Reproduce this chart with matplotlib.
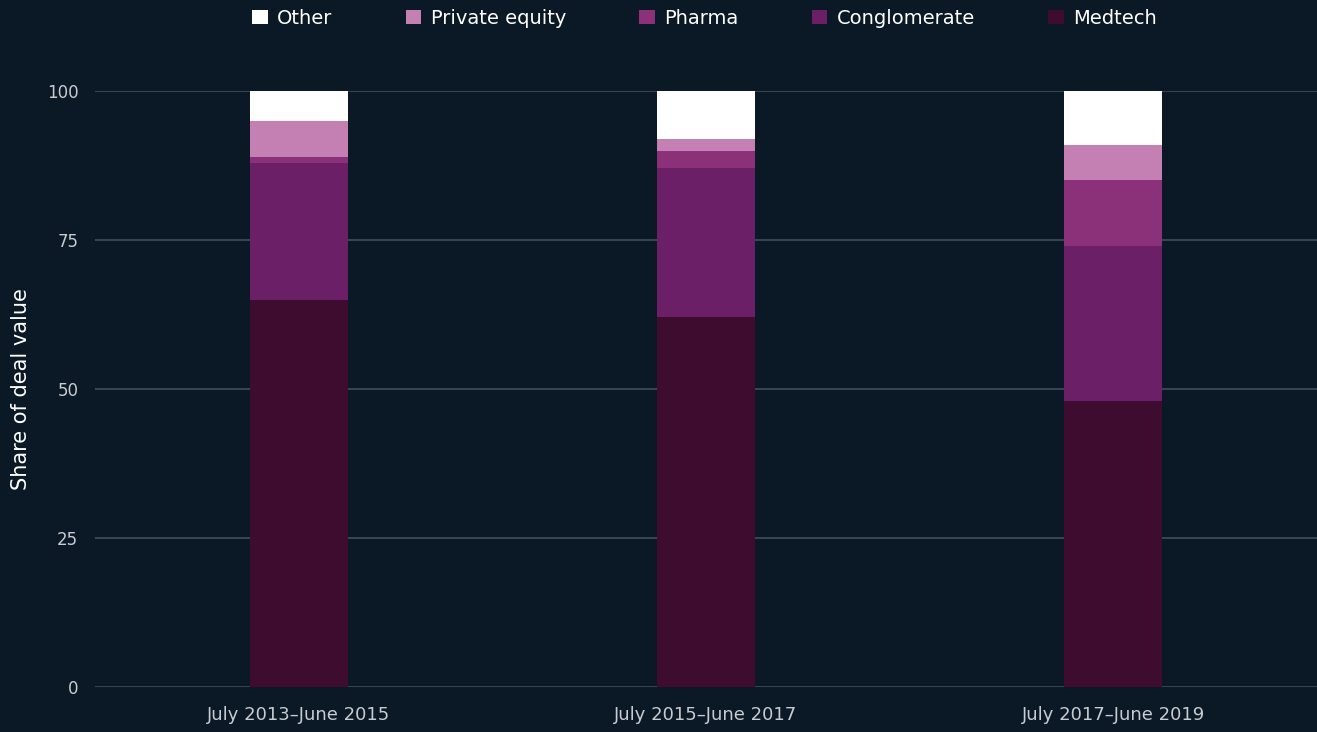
import matplotlib.pyplot as plt
import numpy as np

periods = ['July 2013\u2013June 2015', 'July 2015\u2013June 2017', 'July 2017\u2013June 2019']
series = ['Medtech', 'Conglomerate', 'Pharma', 'Private equity', 'Other']
medtech = [65, 62, 48]
conglomerate = [23, 25, 26]
pharma = [1, 3, 11]
private_equity = [6, 2, 6]
other = [5, 8, 9]
colors = ['#3d0c2f', '#6b1f67', '#8a317a', '#c47fb3', '#ffffff']

bg = '#0b1826'
plt.rcParams['font.family'] = ['DejaVu Sans']

fig = plt.figure(figsize=(13.17, 7.32), dpi=100, facecolor=bg)
ax = fig.add_axes([95 / 1317, 45 / 732, 1 - 95 / 1317, 596 / 732])
ax.set_facecolor(bg)

x = np.arange(len(periods))
bottom = np.zeros(len(periods))
bars = []
for name, vals, c in zip(series, [medtech, conglomerate, pharma, private_equity, other], colors):
    b = ax.bar(x, vals, 0.24, bottom=bottom, color=c, label=name, zorder=3)
    bars.append(b)
    bottom += np.array(vals)

ax.set_xlim(-0.5, 2.5)
ax.set_ylim(0, 100)
ax.set_yticks([0, 25, 50, 75, 100])
ax.grid(axis='y', color='#3b4a59', linewidth=1.3, zorder=0)
ax.set_axisbelow(True)
for s in ax.spines.values():
    s.set_visible(False)
ax.tick_params(axis='both', length=0, colors='#c8ccd0', labelsize=12)
ax.tick_params(axis='y', pad=12)
ax.tick_params(axis='x', pad=14, labelsize=13)
ax.set_xticks(x)
ax.set_xticklabels(periods)
ax.set_ylabel('Share of deal value', color='#ffffff', fontsize=15, labelpad=11)

handles = bars[::-1]
leg = fig.legend(handles, series[::-1], loc='upper center', bbox_to_anchor=(0.535, 1.012),
                 ncol=5, frameon=False, fontsize=14, handlelength=0.8, handleheight=0.8,
                 handletextpad=0.5, columnspacing=3.75)
for t in leg.get_texts():
    t.set_color('#ffffff')

fig.savefig('out.png', dpi=100, facecolor=bg)
